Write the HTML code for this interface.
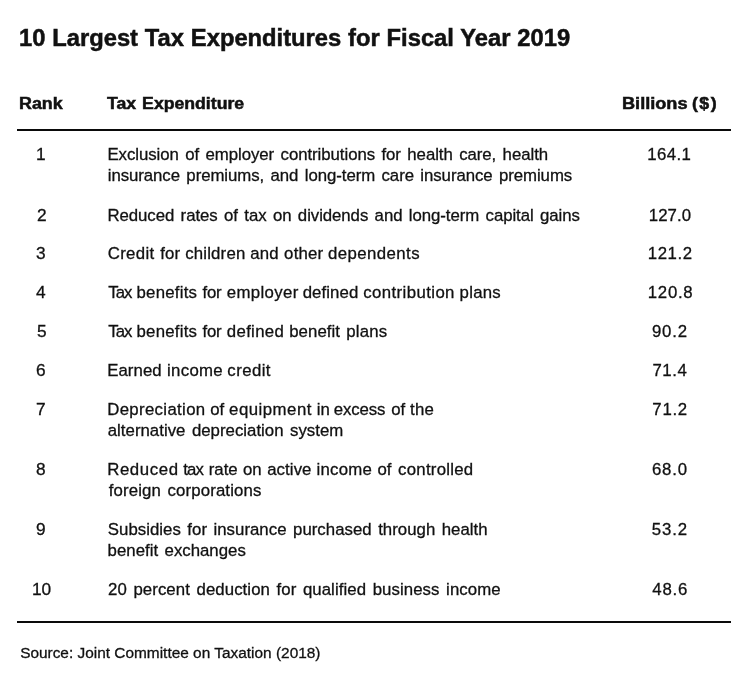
<!DOCTYPE html>
<html><head><meta charset="utf-8">
<style>
html,body{margin:0;padding:0;background:#fff;}
body{width:750px;height:676px;position:relative;overflow:hidden;font-family:"Liberation Sans",Arial,sans-serif;color:#111;}
.t{position:absolute;white-space:nowrap;line-height:20px;font-size:16px;transform-origin:0 0;}
.b{font-weight:bold;-webkit-text-stroke:0.5px #111;}
.g{-webkit-text-stroke:0.3px #111;}
.hr{position:absolute;left:17px;width:714px;height:2px;background:#0a0a0a;}
</style></head><body>
<div class="hr" style="top:129px"></div>
<div class="hr" style="top:621px"></div>

<div class="t b" id="title" style="left:19.03px;top:27.90px;font-size:23px;transform:scaleX(1.0320);word-spacing:0.26px;">10 Largest Tax Expenditures for Fiscal Year 2019</div>
<div class="t b" id="hrank" style="left:18.92px;top:94.20px;transform:scaleX(1.1167);">Rank</div>
<div class="t b" id="hte" style="left:107.31px;top:94.20px;transform:scaleX(1.1033);word-spacing:1.00px;">Tax Expenditure</div>
<div class="t b" id="hbil0" style="left:621.98px;top:94.00px;transform:scaleX(1.1343);">Billions</div>
<div class="t b" id="hbil1" style="left:692.37px;top:94.00px;transform:scaleX(1.1106);letter-spacing:1.30px;">($)</div>
<div class="t g" id="r1a" style="left:107.44px;top:144.90px;font-size:16.8px;word-spacing:1.80px;letter-spacing:-0.05px;">Exclusion of employer contributions for health care, health</div>
<div class="t g" id="r1b" style="left:107.75px;top:165.80px;font-size:16.8px;word-spacing:1.80px;letter-spacing:-0.06px;">insurance premiums, and long-term care insurance premiums</div>
<div class="t g" id="r2" style="left:107.46px;top:205.50px;font-size:16.8px;word-spacing:1.80px;letter-spacing:-0.06px;">Reduced rates of tax on dividends and long-term capital gains</div>
<div class="t g" id="r3w0" style="left:107.65px;top:244.40px;font-size:16.8px;letter-spacing:0.37px;">Credit</div>
<div class="t g" id="r3w1" style="left:160.14px;top:244.40px;font-size:16.8px;letter-spacing:0.24px;">for</div>
<div class="t g" id="r3w2" style="left:185.16px;top:244.40px;font-size:16.8px;letter-spacing:0.19px;">children</div>
<div class="t g" id="r3w3" style="left:250.16px;top:244.40px;font-size:16.8px;letter-spacing:0.25px;">and</div>
<div class="t g" id="r3w4" style="left:284.11px;top:244.40px;font-size:16.8px;letter-spacing:0.21px;">other</div>
<div class="t g" id="r3w5" style="left:327.95px;top:244.40px;font-size:16.8px;letter-spacing:0.44px;">dependents</div>
<div class="t g" id="r4w0" style="left:108.18px;top:283.40px;font-size:16.8px;letter-spacing:-0.90px;">Tax</div>
<div class="t g" id="r4w1" style="left:136.52px;top:283.40px;font-size:16.8px;letter-spacing:0.24px;">benefits</div>
<div class="t g" id="r4w2" style="left:202.60px;top:283.40px;font-size:16.8px;letter-spacing:-0.35px;">for</div>
<div class="t g" id="r4w3" style="left:226.86px;top:283.40px;font-size:16.8px;letter-spacing:0.34px;">employer</div>
<div class="t g" id="r4w4" style="left:302.69px;top:283.40px;font-size:16.8px;letter-spacing:0.08px;">defined</div>
<div class="t g" id="r4w5" style="left:363.19px;top:283.40px;font-size:16.8px;letter-spacing:0.41px;">contribution</div>
<div class="t g" id="r4w6" style="left:459.54px;top:283.40px;font-size:16.8px;letter-spacing:0.27px;">plans</div>
<div class="t g" id="r5w0" style="left:108.18px;top:322.40px;font-size:16.8px;letter-spacing:-0.90px;">Tax</div>
<div class="t g" id="r5w1" style="left:136.52px;top:322.40px;font-size:16.8px;letter-spacing:0.24px;">benefits</div>
<div class="t g" id="r5w2" style="left:202.60px;top:322.40px;font-size:16.8px;letter-spacing:-0.35px;">for</div>
<div class="t g" id="r5w3" style="left:226.83px;top:322.40px;font-size:16.8px;letter-spacing:0.32px;">defined</div>
<div class="t g" id="r5w4" style="left:289.17px;top:322.40px;font-size:16.8px;letter-spacing:0.08px;">benefit</div>
<div class="t g" id="r5w5" style="left:346.27px;top:322.40px;font-size:16.8px;letter-spacing:0.16px;">plans</div>
<div class="t g" id="r6w0" style="left:107.21px;top:361.20px;font-size:16.8px;letter-spacing:0.07px;">Earned</div>
<div class="t g" id="r6w1" style="left:167.04px;top:361.20px;font-size:16.8px;letter-spacing:0.30px;">income</div>
<div class="t g" id="r6w2" style="left:227.34px;top:361.20px;font-size:16.8px;letter-spacing:0.43px;">credit</div>
<div class="t g" id="r7aw0" style="left:107.21px;top:400.30px;font-size:16.8px;letter-spacing:0.34px;">Depreciation</div>
<div class="t g" id="r7aw1" style="left:210.13px;top:400.30px;font-size:16.8px;">of</div>
<div class="t g" id="r7aw2" style="left:229.11px;top:400.30px;font-size:16.8px;letter-spacing:0.49px;">equipment</div>
<div class="t g" id="r7aw3" style="left:316.76px;top:400.30px;font-size:16.8px;">in</div>
<div class="t g" id="r7aw4" style="left:333.63px;top:400.30px;font-size:16.8px;letter-spacing:-0.07px;">excess</div>
<div class="t g" id="r7aw5" style="left:391.14px;top:400.30px;font-size:16.8px;">of</div>
<div class="t g" id="r7aw6" style="left:410.06px;top:400.30px;font-size:16.8px;letter-spacing:0.29px;">the</div>
<div class="t g" id="r7b" style="left:107.77px;top:421.10px;font-size:16.8px;word-spacing:1.80px;letter-spacing:0.02px;">alternative depreciation system</div>
<div class="t g" id="r8aw0" style="left:107.21px;top:460.20px;font-size:16.8px;letter-spacing:0.60px;">Reduced</div>
<div class="t g" id="r8aw1" style="left:183.28px;top:460.20px;font-size:16.8px;letter-spacing:-0.90px;">tax</div>
<div class="t g" id="r8aw2" style="left:208.73px;top:460.20px;font-size:16.8px;letter-spacing:0.01px;">rate</div>
<div class="t g" id="r8aw3" style="left:243.03px;top:460.20px;font-size:16.8px;">on</div>
<div class="t g" id="r8aw4" style="left:267.16px;top:460.20px;font-size:16.8px;letter-spacing:0.09px;">active</div>
<div class="t g" id="r8aw5" style="left:316.44px;top:460.20px;font-size:16.8px;letter-spacing:0.26px;">income</div>
<div class="t g" id="r8aw6" style="left:377.49px;top:460.20px;font-size:16.8px;">of</div>
<div class="t g" id="r8aw7" style="left:398.06px;top:460.20px;font-size:16.8px;letter-spacing:0.26px;">controlled</div>
<div class="t g" id="r8b" style="left:108.72px;top:480.50px;font-size:16.8px;word-spacing:1.80px;letter-spacing:0.13px;">foreign corporations</div>
<div class="t g" id="r9a" style="left:107.80px;top:520.20px;font-size:16.8px;word-spacing:1.80px;letter-spacing:0.03px;">Subsidies for insurance purchased through health</div>
<div class="t g" id="r9b" style="left:107.62px;top:540.90px;font-size:16.8px;word-spacing:1.80px;letter-spacing:0.01px;">benefit exchanges</div>
<div class="t g" id="r10" style="left:108.04px;top:580.20px;font-size:16.8px;word-spacing:1.80px;letter-spacing:0.08px;">20 percent deduction for qualified business income</div>
<div class="t g" id="src" style="left:20.14px;top:642.50px;font-size:15.4px;word-spacing:0.07px;">Source: Joint Committee on Taxation (2018)</div>
<div class="t g" id="n1" style="left:35.64px;top:145.20px;font-size:16.8px;transform:scaleX(1.0300);">1</div>
<div class="t g" id="n2" style="left:36.56px;top:205.50px;font-size:16.8px;transform:scaleX(1.0300);">2</div>
<div class="t g" id="n3" style="left:36.30px;top:244.40px;font-size:16.8px;transform:scaleX(1.0300);">3</div>
<div class="t g" id="n4" style="left:36.34px;top:283.40px;font-size:16.8px;transform:scaleX(1.0300);">4</div>
<div class="t g" id="n5" style="left:36.57px;top:322.40px;font-size:16.8px;transform:scaleX(1.0300);">5</div>
<div class="t g" id="n6" style="left:36.11px;top:361.20px;font-size:16.8px;transform:scaleX(1.0300);">6</div>
<div class="t g" id="n7" style="left:36.10px;top:400.30px;font-size:16.8px;transform:scaleX(1.0300);">7</div>
<div class="t g" id="n8" style="left:36.15px;top:460.20px;font-size:16.8px;transform:scaleX(1.0300);">8</div>
<div class="t g" id="n9" style="left:36.29px;top:520.20px;font-size:16.8px;transform:scaleX(1.0300);">9</div>
<div class="t g" id="n10" style="left:31.97px;top:580.20px;font-size:16.8px;transform:scaleX(1.0300);">10</div>
<div class="t g" id="v1" style="left:647.28px;top:145.20px;font-size:16.8px;letter-spacing:0.38px;">164.1</div>
<div class="t g" id="v2" style="left:648.77px;top:205.50px;font-size:16.8px;letter-spacing:0.06px;">127.0</div>
<div class="t g" id="v3" style="left:647.69px;top:244.40px;font-size:16.8px;letter-spacing:0.63px;">121.2</div>
<div class="t g" id="v4" style="left:647.79px;top:283.40px;font-size:16.8px;letter-spacing:0.73px;">120.8</div>
<div class="t g" id="v5" style="left:651.89px;top:322.40px;font-size:16.8px;letter-spacing:0.88px;">90.2</div>
<div class="t g" id="v6" style="left:652.38px;top:361.20px;font-size:16.8px;letter-spacing:0.63px;">71.4</div>
<div class="t g" id="v7" style="left:652.35px;top:400.30px;font-size:16.8px;letter-spacing:0.72px;">71.2</div>
<div class="t g" id="v8" style="left:651.89px;top:460.20px;font-size:16.8px;letter-spacing:0.85px;">68.0</div>
<div class="t g" id="v9" style="left:651.83px;top:520.20px;font-size:16.8px;letter-spacing:0.89px;">53.2</div>
<div class="t g" id="v10" style="left:652.37px;top:580.20px;font-size:16.8px;letter-spacing:0.73px;">48.6</div>
</body></html>
